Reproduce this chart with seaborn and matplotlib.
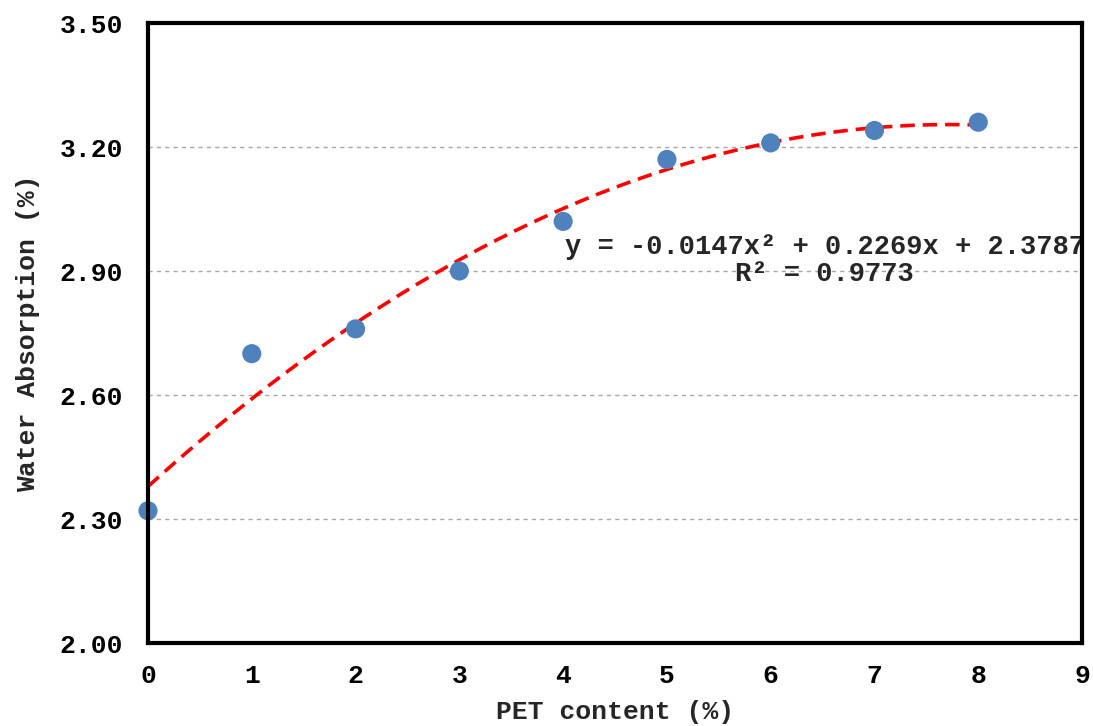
import numpy as np
import pandas as pd
import matplotlib
matplotlib.use("Agg")
import matplotlib.pyplot as plt
import seaborn as sns

# Measured water absorption vs. PET content
pet_content = [0, 1, 2, 3, 4, 5, 6, 7, 8]
water_absorption = [2.32, 2.70, 2.76, 2.90, 3.02, 3.17, 3.21, 3.24, 3.26]

# Second-order polynomial trendline coefficients (a*x^2 + b*x + c)
fit_a, fit_b, fit_c = -0.0147, 0.2269, 2.3787
fit_r2 = 0.9773

x_ticks = [0, 1, 2, 3, 4, 5, 6, 7, 8, 9]
y_ticks = [2.00, 2.30, 2.60, 2.90, 3.20, 3.50]

sns.set_theme(style="white")
plt.rcParams["font.family"] = ["Liberation Mono", "DejaVu Sans Mono"]
plt.rcParams["font.weight"] = "bold"

fig = plt.figure(figsize=(10.93, 7.26), dpi=100)
ax = fig.add_axes([0.1354, 0.1143, 0.8546, 0.854])

df = pd.DataFrame({"pet": pet_content, "wa": water_absorption})
xs = np.linspace(min(pet_content), max(pet_content), 200)
fit_df = pd.DataFrame({"pet": xs, "wa": fit_a * xs**2 + fit_b * xs + fit_c})

# horizontal gridlines
for yv in y_ticks[1:-1]:
    ax.axhline(yv, color="#a6a6a6", lw=1.0, ls=(0, (3, 3)), zorder=0)

sns.lineplot(data=fit_df, x="pet", y="wa", ax=ax, color="#ff0000", lw=2.6,
             linestyle=(0, (4, 2.2)), zorder=2, clip_on=False)
sns.scatterplot(data=df, x="pet", y="wa", ax=ax, color="#4f81bd", s=190,
                edgecolor="none", zorder=3, clip_on=False)

ax.set_xlim(0, 9)
ax.set_ylim(2.0, 3.5)
ax.set_xticks(x_ticks)
ax.set_yticks(y_ticks)
ax.set_xticklabels([str(v) for v in x_ticks])
ax.set_yticklabels([f"{v:.2f}" for v in y_ticks])

for sp in ax.spines.values():
    sp.set_visible(True)
    sp.set_color("black")
    sp.set_linewidth(3)
    sp.set_zorder(5)

ax.tick_params(axis="both", direction="out", length=6, width=3, color="black",
               labelsize=19, labelcolor="black")
ax.tick_params(axis="x", pad=9)
ax.tick_params(axis="y", pad=12)
ax.set_xlabel("PET content (%)", fontsize=19, fontweight="bold", labelpad=9)
ax.set_ylabel("Water Absorption (%)", fontsize=19, fontweight="bold", labelpad=14)

eq = f"y = {fit_a:.4f}x² + {fit_b:.4f}x + {fit_c:.4f}\nR² = {fit_r2:.4f}"
ax.text(6.52, 2.925, eq, ha="center", va="center", fontsize=19.5,
        fontweight="bold", linespacing=1.05, zorder=4)

fig.savefig("out.png", dpi=100)
